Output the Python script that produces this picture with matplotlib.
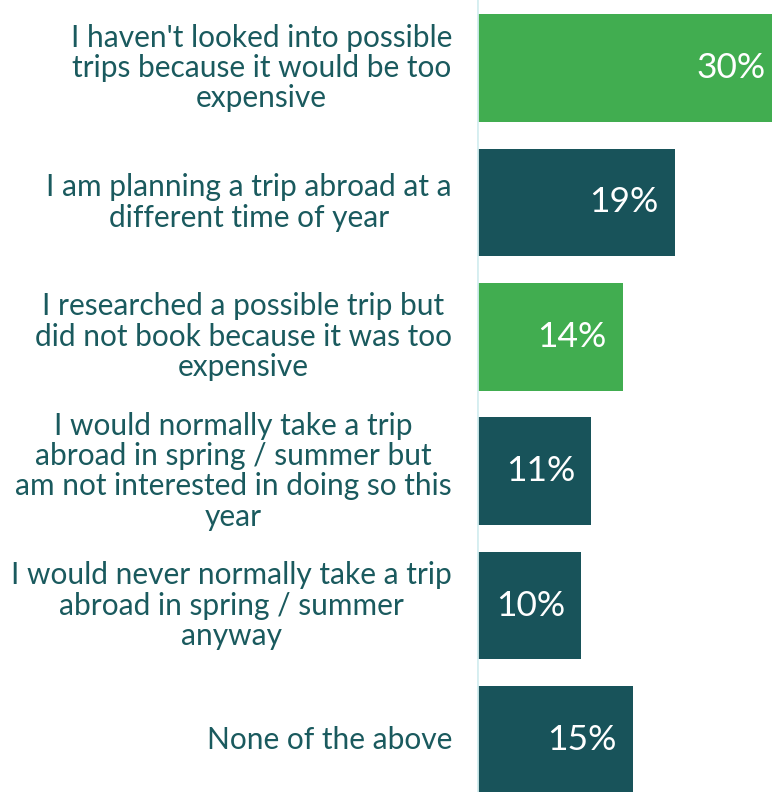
import matplotlib.pyplot as plt

# Survey answers, top to bottom
labels = [
    "I haven't looked into possible\ntrips because it would be too\nexpensive",
    "I am planning a trip abroad at a\ndifferent time of year",
    "I researched a possible trip but\ndid not book because it was too\nexpensive",
    "I would normally take a trip\nabroad in spring / summer but\nam not interested in doing so this\nyear",
    "I would never normally take a trip\nabroad in spring / summer\nanyway",
    "None of the above",
]
values = [30, 19, 14, 11, 10, 15]
bar_colors = ['#41ad50', '#18535a', '#41ad50', '#18535a', '#18535a', '#18535a']

text_col = '#1a5a5e'

fig = plt.figure(figsize=(7.72, 7.92), dpi=100)
ax = fig.add_axes([477/772, 0, 295/772, 1])

y = list(range(len(values)))
ax.barh(y, values, height=0.8, color=bar_colors)
xmax = 295/10.4
ax.set_xlim(0, xmax)
ax.set_ylim(5 + 52/134.5, -68/134.5)

# value labels inside bars, near the visible end
for yi, v in zip(y, values):
    xe = min(v, xmax)
    ax.annotate(f"{v}%", (xe, yi), xytext=(-16 if v < xmax else -6, 0),
                textcoords='offset pixels',
                ha='right', va='center', color='white', fontsize=25.5,
                family='Lato')

# category labels left of axis
for yi, lab in zip(y, labels):
    ax.annotate(lab, (0, yi), xytext=(-25, 0), textcoords='offset pixels',
                ha='right', va='center', multialignment='center',
                color=text_col, fontsize=21.5, family='Lato', linespacing=1.1,
                annotation_clip=False)

ax.axvline(0, color='#d5eef0', lw=2)
for s in ax.spines.values():
    s.set_visible(False)
ax.set_xticks([])
ax.set_yticks([])

fig.savefig('out.png', dpi=100)
